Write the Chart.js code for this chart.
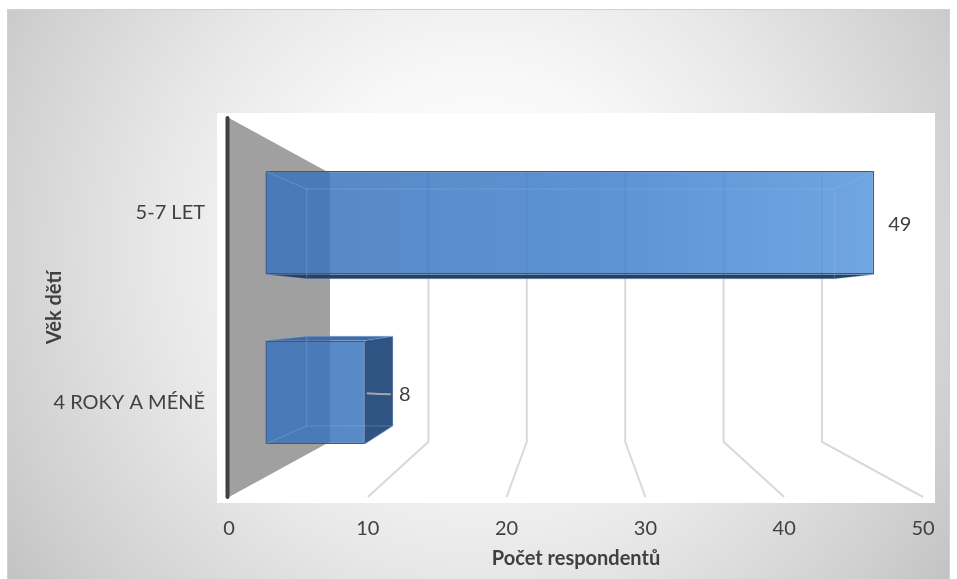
<!DOCTYPE html>
<html lang="cs">
<head>
<meta charset="utf-8">
<title>Věk dětí</title>
<script src="https://cdn.jsdelivr.net/npm/chart.js@4.4.1/dist/chart.umd.min.js"></script>
<style>
  html, body { margin: 0; padding: 0; background: #fff; }
  #wrap { width: 957px; height: 579px; }
</style>
</head>
<body>
<div id="wrap"><canvas id="vekChart" width="957" height="579"></canvas></div>
<script>
const categories = ['5-7 LET', '4 ROKY A MÉNĚ'];
const respondents = [49, 8];
const xTicks = [0, 10, 20, 30, 40, 50];

const FONT = 'Lato, "Open Sans", sans-serif';
const TEXT = '#404040';

// depth of each plane in the fake 3D view, relative to the front floor edge
const K_FRONT = 0.895, K_BACK = 0.776, K_WALL = 0.709;

function vanish(chart) {
    const a = chart.chartArea;
    return { x: (a.left + a.right) / 2, y: (a.top + a.bottom) / 2 };
}

function project(vp, px, py, k) {
    return [vp.x + (px - vp.x) * k, vp.y + (py - vp.y) * k];
}

function barBoxes(chart) {
    const vp = vanish(chart);
    const meta = chart.getDatasetMeta(0);
    return meta.data.map((el, i) => {
        const p = el.getProps(['x', 'y', 'base', 'height'], true);
        const l = Math.min(p.base, p.x), r = Math.max(p.base, p.x);
        const t = p.y - p.height / 2, b = p.y + p.height / 2;
        const box = k => {
            const tl = project(vp, l, t, k), br = project(vp, r, b, k);
            return { left: tl[0], top: tl[1], right: br[0], bottom: br[1] };
        };
        return { f: box(K_FRONT), b: box(K_BACK), cy: project(vp, 0, p.y, K_FRONT)[1], value: respondents[i] };
    });
}

function poly(ctx, pts, fill) {
    ctx.beginPath();
    ctx.moveTo(pts[0][0], pts[0][1]);
    pts.slice(1).forEach(p => ctx.lineTo(p[0], p[1]));
    ctx.closePath();
    ctx.fillStyle = fill;
    ctx.fill();
}

const view3d = {
    id: 'view3d',
    beforeDraw(chart) {
        const { ctx, chartArea: a } = chart;
        ctx.save();
        ctx.fillStyle = '#fff';
        ctx.fillRect(0, 0, chart.width, chart.height);
        const g = ctx.createRadialGradient(479, 250, 0, 479, 250, 580);
        g.addColorStop(0, '#ffffff');
        g.addColorStop(0.3, '#f8f8f8');
        g.addColorStop(0.55, '#e8e8e8');
        g.addColorStop(0.85, '#d0d0d0');
        g.addColorStop(1, '#c2c2c2');
        ctx.fillStyle = g;
        ctx.fillRect(7, 9, 943, 570);
        ctx.strokeStyle = '#d0d0d0';
        ctx.lineWidth = 1;
        ctx.strokeRect(7.5, 9.5, 942, 570);
        ctx.fillStyle = '#fff';
        ctx.fillRect(a.left - 12, a.top - 5, a.right - a.left + 24, a.bottom - a.top + 11);
        ctx.restore();
    },
    beforeDatasetsDraw(chart) {
        const { ctx, chartArea: a, scales: { x } } = chart;
        const vp = vanish(chart);
        const x0 = x.getPixelForValue(0);

        ctx.save();
        // side wall
        poly(ctx, [[x0, a.top], project(vp, x0, a.top, K_WALL), project(vp, x0, a.bottom, K_WALL), [x0, a.bottom]], '#a0a0a0');

        // gridlines: back wall + floor
        ctx.strokeStyle = '#d9d9d9';
        ctx.lineWidth = 2;
        xTicks.slice(1).forEach(v => {
            const px = x.getPixelForValue(v);
            const t = project(vp, px, a.top, K_WALL), b = project(vp, px, a.bottom, K_WALL);
            ctx.beginPath();
            ctx.moveTo(t[0], t[1]);
            ctx.lineTo(b[0], b[1]);
            ctx.lineTo(px, a.bottom);
            ctx.stroke();
        });

        // axis line
        ctx.strokeStyle = '#404040';
        ctx.lineWidth = 4;
        ctx.lineCap = 'round';
        ctx.beginPath();
        ctx.moveTo(x0 - 1.5, a.top);
        ctx.lineTo(x0 - 1.5, a.bottom);
        ctx.stroke();

        // visible side faces of the boxes
        barBoxes(chart).forEach(({ f, b }) => {
            if (b.right > f.right) poly(ctx, [[f.right, f.top], [b.right, b.top], [b.right, b.bottom], [f.right, f.bottom]], '#2f5483');
            if (b.left < f.left) poly(ctx, [[f.left, f.top], [b.left, b.top], [b.left, b.bottom], [f.left, f.bottom]], '#2f5483');
            if (b.top < f.top) poly(ctx, [[f.left, f.top], [b.left, b.top], [b.right, b.top], [f.right, f.top]], '#3f6ca8');
            if (b.bottom > f.bottom) poly(ctx, [[f.left, f.bottom], [b.left, b.bottom], [b.right, b.bottom], [f.right, f.bottom]], '#22406a');
        });
        ctx.restore();

        // front faces: let Chart.js draw the bars in the front plane
        ctx.save();
        ctx.translate(vp.x, vp.y);
        ctx.scale(K_FRONT, K_FRONT);
        ctx.translate(-vp.x, -vp.y);
    },
    afterDatasetsDraw(chart) {
        const { ctx } = chart;
        ctx.restore();

        ctx.save();
        barBoxes(chart).forEach(({ f, b, cy, value }) => {
            // hidden edges seen through the front face
            ctx.strokeStyle = 'rgba(150,185,230,0.28)';
            ctx.lineWidth = 1.2;
            ctx.strokeRect(b.left, b.top, b.right - b.left, b.bottom - b.top);
            ctx.beginPath();
            [['left', 'top'], ['right', 'top'], ['left', 'bottom'], ['right', 'bottom']].forEach(([h, v]) => {
                ctx.moveTo(f[h], f[v]);
                ctx.lineTo(b[h], b[v]);
            });
            ctx.stroke();

            // data label (with a leader line when it sits past the side face)
            const lx = Math.max(f.right, b.right) + (b.right > f.right ? 6 : 14);
            if (b.right > f.right + 10) {
                ctx.strokeStyle = '#a6a6a6';
                ctx.lineWidth = 2;
                ctx.beginPath();
                ctx.moveTo(f.right + 2, cy + 1);
                ctx.quadraticCurveTo((f.right + b.right) / 2, cy + 2, b.right - 2, cy + 2);
                ctx.stroke();
            }
            ctx.fillStyle = TEXT;
            ctx.font = '20px ' + FONT;
            ctx.textAlign = 'left';
            ctx.textBaseline = 'middle';
            ctx.fillText(String(value), lx, cy + 2);
        });
        ctx.restore();
    }
};

function barFill(c) {
    const { ctx, chartArea } = c.chart;
    if (!chartArea) return 'rgba(62,125,200,0.85)';
    const g = ctx.createLinearGradient(chartArea.left, 0, chartArea.right, 0);
    g.addColorStop(0, 'rgba(58,114,186,0.85)');
    g.addColorStop(0.55, 'rgba(64,128,203,0.85)');
    g.addColorStop(1, 'rgba(88,152,222,0.85)');
    return g;
}

document.addEventListener('DOMContentLoaded', function() {
    const ctx = document.getElementById('vekChart');
    new Chart(ctx, {
        type: 'bar',
        data: {
            labels: categories,
            datasets: [{
                label: 'Počet respondentů',
                data: respondents,
                backgroundColor: barFill,
                borderColor: '#2f5a94',
                borderWidth: 1.6,
                borderSkipped: false,
                categoryPercentage: 1,
                barPercentage: 0.61,
                clip: false
            }]
        },
        options: {
            responsive: false,
            animation: false,
            indexAxis: 'y',
            layout: { padding: { top: 118, right: 34, left: 0, bottom: 0 } },
            plugins: {
                legend: { display: false },
                tooltip: { enabled: false }
            },
            scales: {
                x: {
                    min: 0,
                    max: 50,
                    afterBuildTicks: s => { s.ticks = xTicks.map(v => ({ value: v })); },
                    afterFit: s => { s.height = 82; },
                    grid: { display: false },
                    border: { display: false },
                    ticks: { font: { family: FONT, size: 20 }, color: TEXT, padding: 12, maxRotation: 0 },
                    title: {
                        display: true,
                        text: 'Počet respondentů',
                        font: { family: FONT, size: 20, weight: 'bold' },
                        color: TEXT,
                        padding: { top: 0, bottom: 8 }
                    }
                },
                y: {
                    afterFit: s => { s.width = 229; },
                    grid: { display: false },
                    border: { display: false },
                    ticks: { font: { family: FONT, size: 20 }, color: TEXT, padding: 16 },
                    title: {
                        display: true,
                        text: 'Věk dětí',
                        font: { family: FONT, size: 20, weight: 'bold' },
                        color: TEXT,
                        padding: { top: 43, bottom: 0 }
                    }
                }
            }
        },
        plugins: [view3d]
    });
});
</script>
</body>
</html>
